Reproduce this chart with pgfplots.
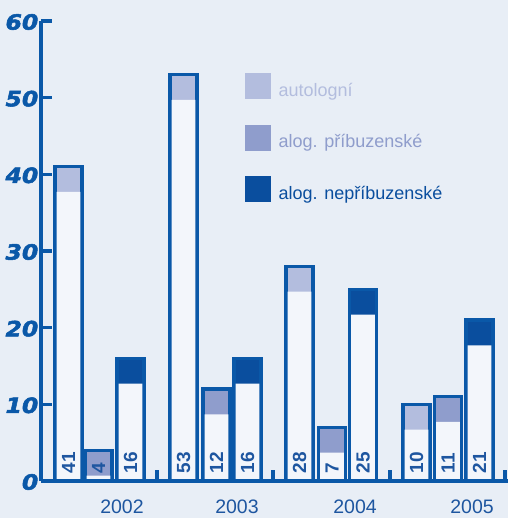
\documentclass[border=0pt]{standalone}
\usepackage{fontspec}
\setmainfont{Liberation Sans}
\newfontfamily\heavyfont[FakeBold=2.5,FakeStretch=1.12]{DejaVu Sans Bold Oblique}
\usepackage{pgfplots}
\usepackage{pgfplotstable}
\pgfplotsset{compat=1.18}
\definecolor{dblue}{HTML}{0A58A8}
\definecolor{capA}{HTML}{B3BDDE}
\definecolor{capB}{HTML}{8F9DCC}
\definecolor{capC}{HTML}{0A4E9E}
\definecolor{bg}{HTML}{E8EEF6}
\definecolor{inner}{HTML}{F3F6FB}
\definecolor{txtblue}{HTML}{1E56A0}

% autologní
\pgfplotstableread{
x v
27.5 41
142.5 53
258.5 28
375.5 10
}\tabA
% alog. příbuzenské
\pgfplotstableread{
x v
57.5 4
175.5 12
291 7
407 11
}\tabB
% alog. nepříbuzenské
\pgfplotstableread{
x v
89.5 16
206.5 16
322 25
438.5 21
}\tabC

\begin{document}
\begin{tikzpicture}
\fill[bg] (-41pt,-37pt) rectangle (467pt,481pt);
\begin{axis}[
  scale only axis, width=467pt, height=460pt,
  xmin=0, xmax=467, ymin=0, ymax=60,
  axis x line*=bottom, axis y line*=left,
  axis line style={draw=dblue, line width=3.6pt},
  axis on top,
  /pgf/number format/assume math mode=true,
  ytick={0,10,...,60},
  tick align=inside,
  major tick length=11pt,
  ytick style={draw=dblue, line width=3.2pt},
  yticklabel style={font=\heavyfont\fontsize{21}{21}\selectfont, text=dblue, inner xsep=2.5pt, yshift=-1pt},
  xtick={116,232,349,464},
  xticklabels={},
  xtick style={draw=dblue, line width=3.2pt},
  extra x ticks={81,196,314,431},
  extra x tick labels={2002,2003,2004,2005},
  extra x tick style={major tick length=0pt, xticklabel style={font=\fontsize{19.5}{19.5}\selectfont, text=txtblue, yshift=-15pt}},
  legend style={at={(rel axis cs:0.4368,0.887)}, anchor=north west, draw=none, fill=none, inner sep=0pt, row sep=25pt, font=\fontsize{18}{18}\selectfont},
  legend cell align=left,
  legend image code/.code={\fill[#1] (0pt,-8pt) rectangle (25pt,17pt); \path (31pt,0pt);},
]
% outlined bars with coloured caps
\addplot[ybar, bar width=27, bar shift=0pt, fill=capA, draw=dblue, line width=3.2pt, forget plot] table[x=x,y=v] {\tabA};
\addplot[ybar, bar width=23.8, bar shift=0pt, fill=inner, draw=none, forget plot] table[x=x,y expr=\thisrow{v}-3.3] {\tabA};
\addplot[ybar, bar width=27, bar shift=0pt, fill=capB, draw=dblue, line width=3.2pt, forget plot] table[x=x,y=v] {\tabB};
\addplot[ybar, bar width=23.8, bar shift=0pt, fill=inner, draw=none, forget plot] table[x=x,y expr=\thisrow{v}-3.3] {\tabB};
\addplot[ybar, bar width=27, bar shift=0pt, fill=capC, draw=dblue, line width=3.2pt, forget plot] table[x=x,y=v] {\tabC};
\addplot[ybar, bar width=23.8, bar shift=0pt, fill=inner, draw=none, forget plot] table[x=x,y expr=\thisrow{v}-3.3] {\tabC};
% value labels
\pgfplotsset{vlab/.style={draw=none, mark=none, forget plot, nodes near coords, point meta=explicit,
  nodes near coords style={rotate=90, anchor=west, inner sep=0pt, font=\bfseries\fontsize{19}{19}\selectfont, text=txtblue}}}
\addplot[vlab] table[x=x, y expr=1, meta=v] {\tabA};
\addplot[vlab] table[x=x, y expr=1, meta=v] {\tabB};
\addplot[vlab] table[x=x, y expr=1, meta=v] {\tabC};
% legend
\addlegendimage{capA}
\addlegendentry{\textcolor{capA}{autologní}}
\addlegendimage{capB}
\addlegendentry{\textcolor{capB}{alog. příbuzenské}}
\addlegendimage{capC}
\addlegendentry{\textcolor{capC}{alog. nepříbuzenské}}
\end{axis}
\end{tikzpicture}
\end{document}
